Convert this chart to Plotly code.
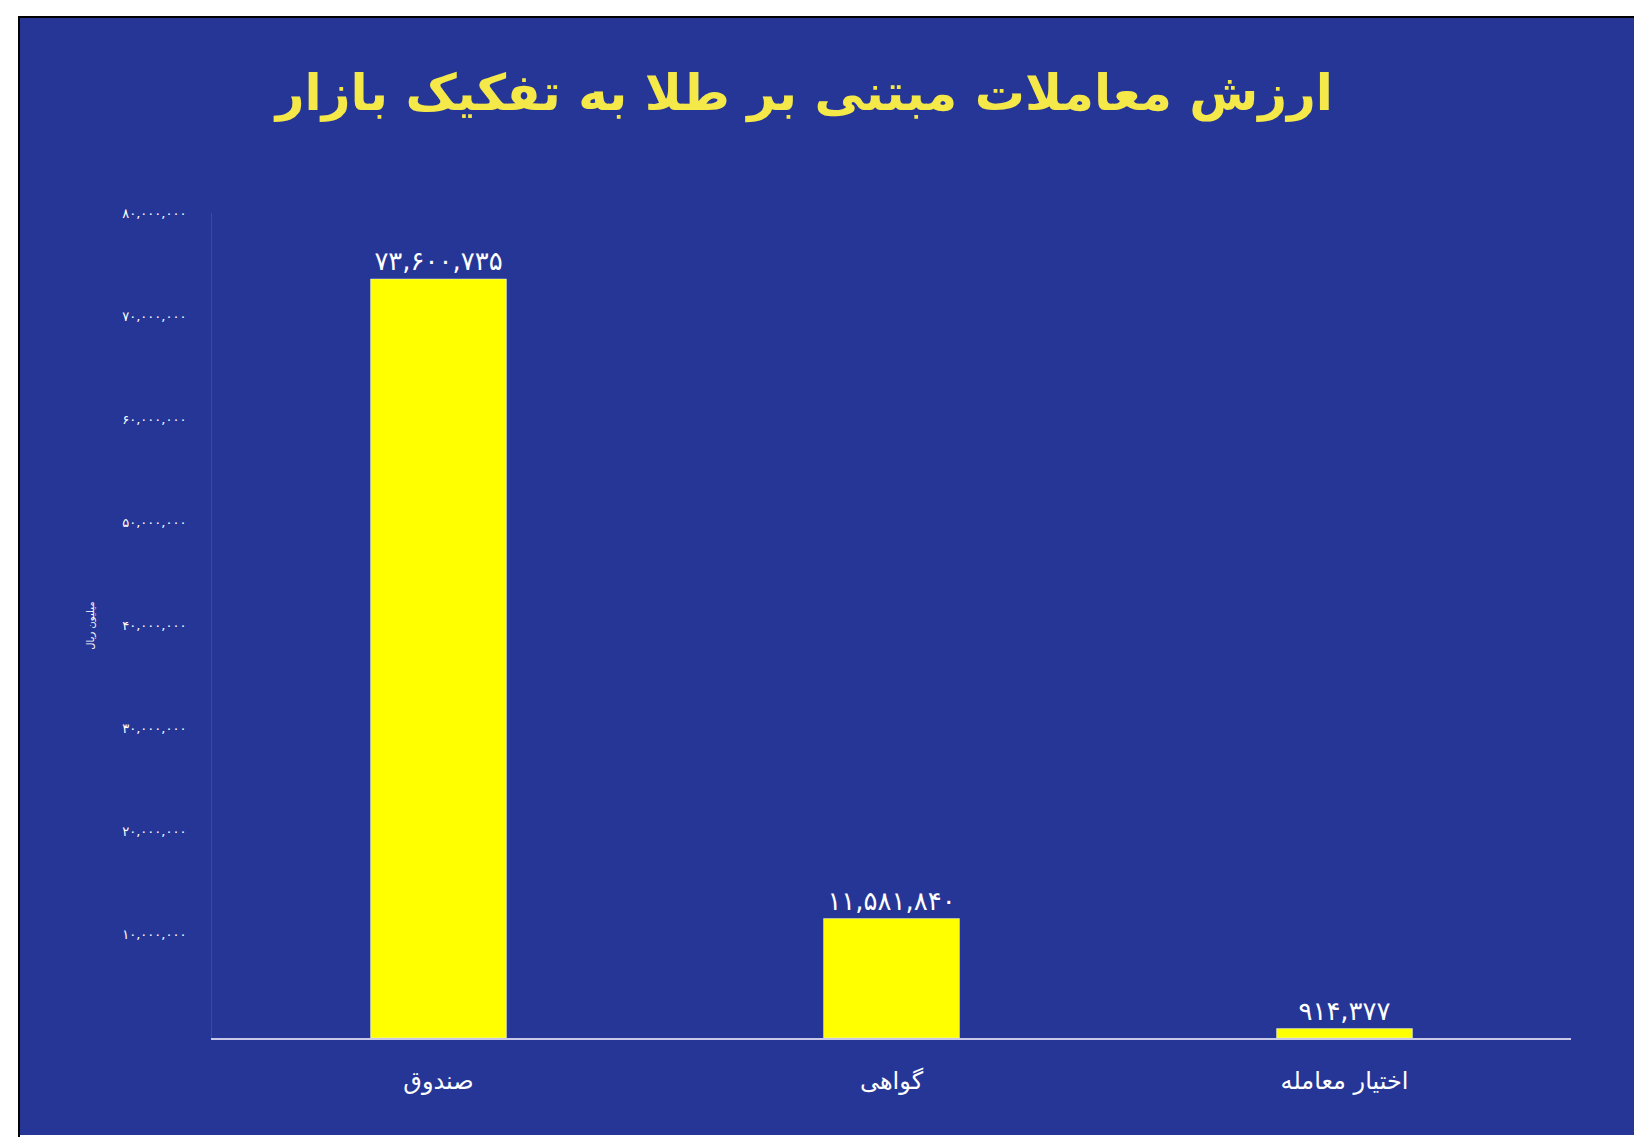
import plotly.graph_objects as go

categories = ["صندوق", "گواهی", "اختیار معامله"]
values = [73600735, 11581840, 914377]
tick_values = [10000000*i for i in range(1, 9)]
tick_labels = ["۱۰,۰۰۰,۰۰۰", "۲۰,۰۰۰,۰۰۰", "۳۰,۰۰۰,۰۰۰", "۴۰,۰۰۰,۰۰۰",
               "۵۰,۰۰۰,۰۰۰", "۶۰,۰۰۰,۰۰۰", "۷۰,۰۰۰,۰۰۰", "۸۰,۰۰۰,۰۰۰"]
title = "ارزش معاملات مبتنی بر طلا به تفکیک بازار"
y_title = "میلیون ریال"

fa = str.maketrans("0123456789", "۰۱۲۳۴۵۶۷۸۹")
labels = [f"{v:,}".translate(fa) for v in values]

BG = "#263696"
fig = go.Figure(go.Bar(
    x=categories, y=values, width=0.3, marker_color="#ffff00",
    text=labels, textposition="outside", cliponaxis=False,
    textfont=dict(color="white", size=26, family="DejaVu Sans"),
))
fig.update_layout(
    width=1642, height=1137,
    paper_bgcolor=BG, plot_bgcolor=BG,
    margin=dict(l=204, r=79, t=205, b=107),
    showlegend=False, bargap=0.7,
    font=dict(family="DejaVu Sans", color="white"),
    title=dict(text=f"<b>{title}</b>", x=0.485, xanchor="center", y=0.926, yanchor="middle",
               font=dict(size=50, color="#f5e94a", family="DejaVu Sans")),
    xaxis=dict(showgrid=False, showline=True, linecolor="#c8c8e8", linewidth=2,
               ticks="", tickfont=dict(size=24, color="white", family="DejaVu Sans"),
               ticklabelstandoff=20),
    yaxis=dict(range=[0, 80000000], tickvals=tick_values, ticktext=tick_labels,
               showgrid=False, showline=True, linecolor="#1f5f7a", linewidth=1,
               ticks="", ticklabelstandoff=22, zeroline=False,
               tickfont=dict(size=13, color="white", family="DejaVu Sans"),
               title=dict(text=y_title, font=dict(size=10, color="white"), standoff=25)),
    shapes=[dict(type="rect", xref="paper", yref="paper", x0=0, x1=1, y0=0, y1=1,
                 line=dict(width=0))],
)
# frame: white outer margin with black outline
fig.add_shape(type="rect", xref="paper", yref="paper",
              x0=-204/1359, x1=1+79/1359, y0=-107/825, y1=1+205/825,
              line=dict(color="white", width=20), layer="above")
fig.add_shape(type="rect", xref="paper", yref="paper",
              x0=-193/1359, x1=1+67/1359, y0=-101/825, y1=1+196/825,
              line=dict(color="black", width=2), layer="above")
fig.write_html("out.html")
